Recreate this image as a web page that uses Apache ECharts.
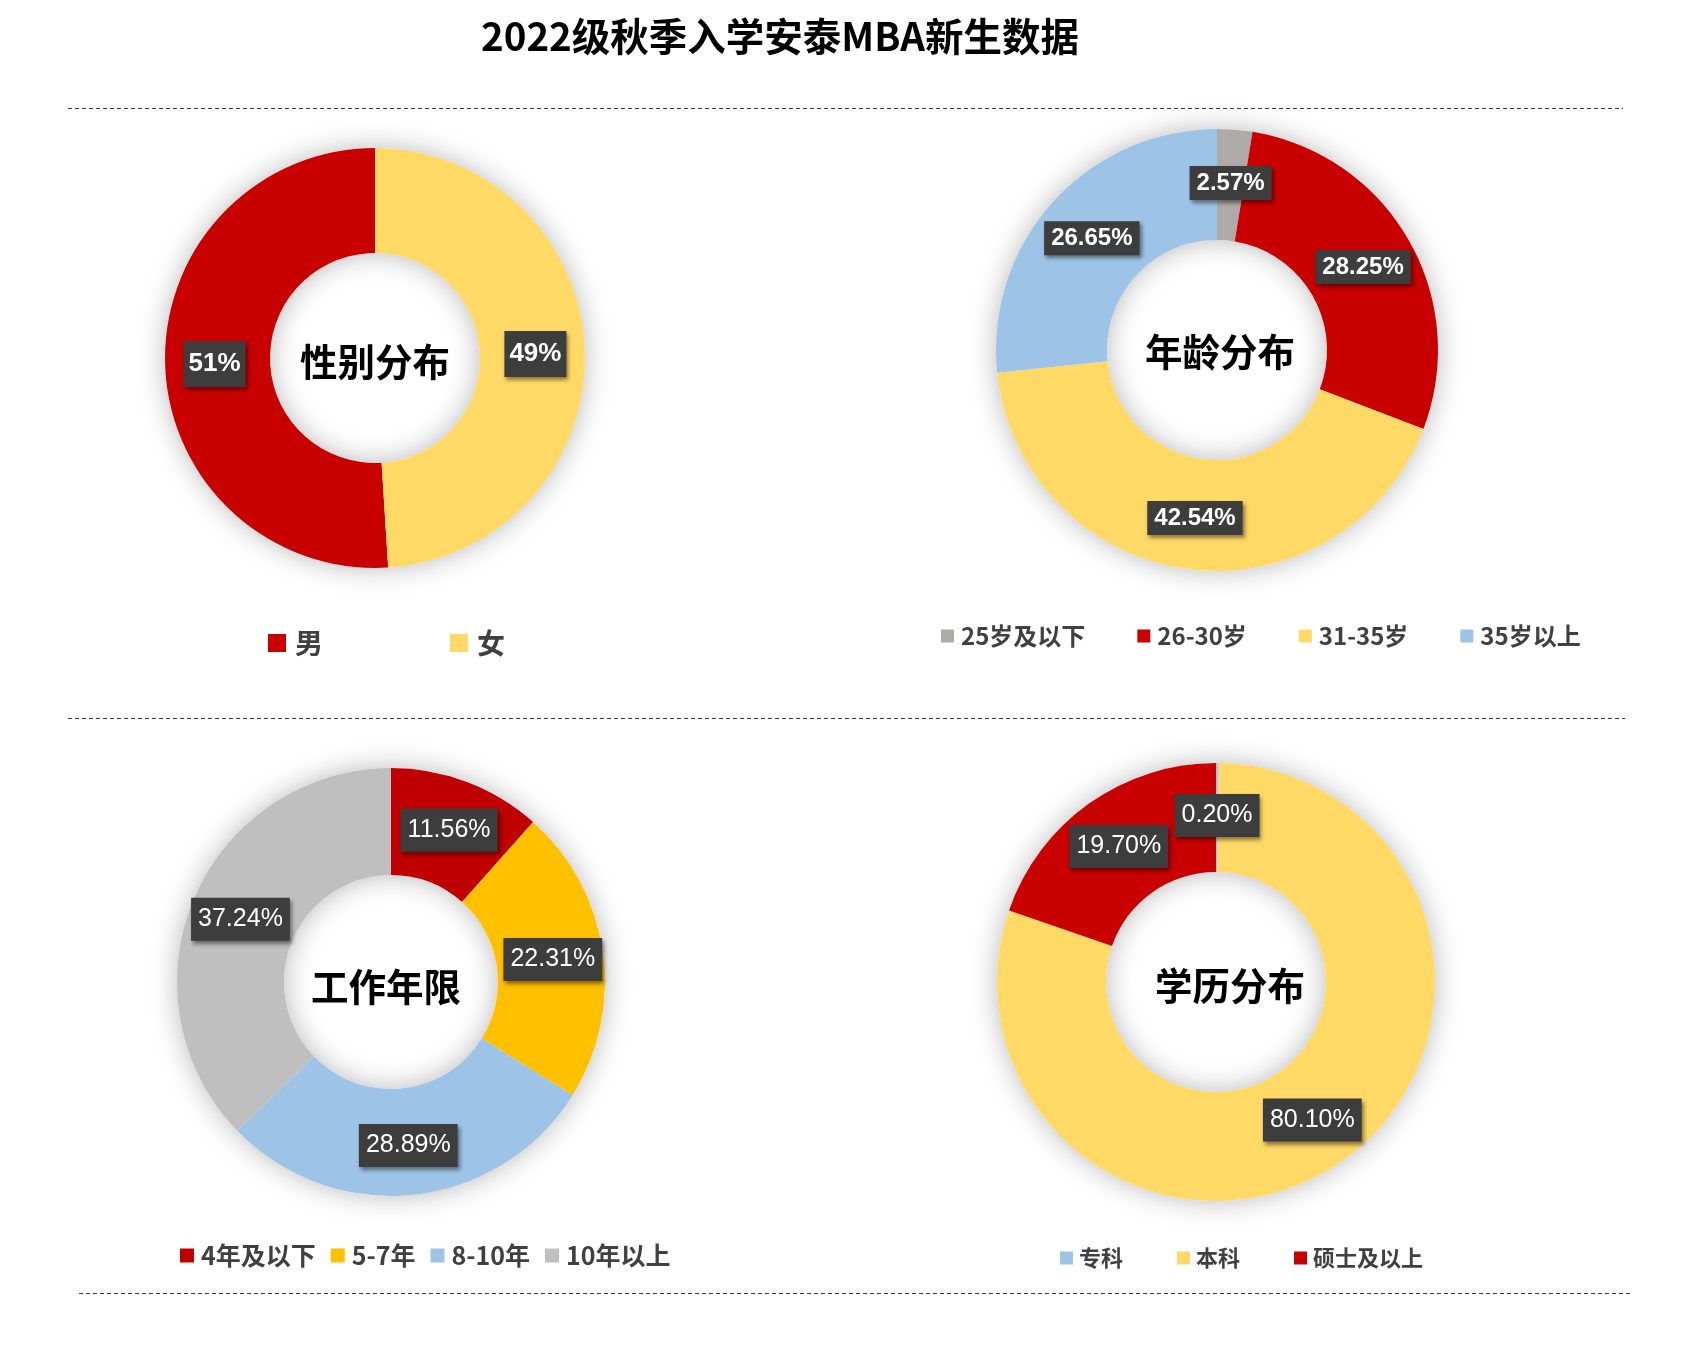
<!DOCTYPE html>
<html>
<head>
<meta charset="utf-8">
<script src="https://cdn.jsdelivr.net/npm/echarts@6/dist/echarts.min.js"></script>
<style>
html,body{margin:0;padding:0;background:#fff;}
#main{width:1682px;height:1350px;}
</style>
</head>
<body>
<div id="main"></div>
<script>
// ---- data ----
var chartTitle = '2022级秋季入学安泰MBA新生数据';
var genderNames = ['男', '女'];
var genderValues = [51, 49];
var ageNames = ['25岁及以下', '26-30岁', '31-35岁', '35岁以上'];
var ageValues = [2.57, 28.25, 42.54, 26.65];
var workNames = ['4年及以下', '5-7年', '8-10年', '10年以上'];
var workValues = [11.56, 22.31, 28.89, 37.24];
var eduNames = ['专科', '本科', '硕士及以上'];
var eduValues = [0.20, 80.10, 19.70];
var centerTexts = ['性别分布', '年龄分布', '工作年限', '学历分布'];

// ---- styles ----
var genderColors = ['#C90000', '#FFD966'];
var ageColors = ['#AEAAAA', '#C90000', '#FFD966', '#9DC3E6'];
var workColors = ['#C00000', '#FFC000', '#9DC3E6', '#BFBFBF'];
var eduColors = ['#9DC3E6', '#FFD966', '#C90000'];

var CJK = '"Noto Sans CJK SC", "Noto Sans", sans-serif';
var LAT = '"Liberation Sans", Arial, sans-serif';

function items(names, vals, colors) {
  return names.map(function (n, i) {
    return { name: n, value: vals[i], itemStyle: { color: colors[i] } };
  });
}

function labelStyle(opts) {
  return {
    show: true,
    position: 'inside',
    color: '#fff',
    fontFamily: LAT,
    fontSize: opts.fontSize,
    fontWeight: opts.fontWeight,
    backgroundColor: '#3d3d3d',
    padding: opts.padding,
    offset: opts.offset || [0, 0],
    shadowColor: 'rgba(0,0,0,0.45)',
    shadowBlur: 4,
    shadowOffsetX: 2,
    shadowOffsetY: 3,
    formatter: opts.formatter
  };
}

function bgRing(center, radius, id) {
  return {
    type: 'pie', name: 'bg' + id, center: center, radius: radius,
    silent: true, z: 1, animation: false,
    label: { show: false }, labelLine: { show: false },
    data: [{ value: 1, name: '__bg' + id, itemStyle: { color: '#ffffff', shadowBlur: 28, shadowColor: 'rgba(0,0,0,0.28)' } }]
  };
}

var fmt2 = function (p) { return p.value.toFixed(2) + '%'; };
var fmt0 = function (p) { return p.value + '%'; };

var donuts = [
  { center: [375, 358], radius: [105, 210] },
  { center: [1217, 350], radius: [110, 221] },
  { center: [391, 982], radius: [107, 214] },
  { center: [1216, 982], radius: [110, 219] }
];

var series = [
  bgRing(donuts[0].center, donuts[0].radius, 0),
  bgRing(donuts[1].center, donuts[1].radius, 1),
  bgRing(donuts[2].center, donuts[2].radius, 2),
  bgRing(donuts[3].center, donuts[3].radius, 3),
  {
    type: 'pie', name: '性别', center: donuts[0].center, radius: donuts[0].radius,
    startAngle: 90, clockwise: false, z: 2, animation: false,
    labelLine: { show: false },
    label: labelStyle({ fontSize: 26, fontWeight: 'bold', padding: [11, 5, 9, 5], formatter: fmt0, offset: [0, 1] }),
    data: items(genderNames, genderValues, genderColors)
  },
  {
    type: 'pie', name: '年龄', center: donuts[1].center, radius: donuts[1].radius,
    startAngle: 90, clockwise: true, z: 2, animation: false,
    labelLine: { show: false },
    label: labelStyle({ fontSize: 24, fontWeight: 'bold', padding: [6, 7, 4, 7], formatter: fmt2, offset: [0, 1] }),
    data: items(ageNames, ageValues, ageColors)
  },
  {
    type: 'pie', name: '工作年限', center: donuts[2].center, radius: donuts[2].radius,
    startAngle: 90, clockwise: true, z: 2, animation: false,
    labelLine: { show: false },
    label: labelStyle({ fontSize: 25, fontWeight: 'normal', padding: [10, 7, 8, 7], formatter: fmt2, offset: [0, 1] }),
    data: items(workNames, workValues, workColors)
  },
  {
    type: 'pie', name: '学历', center: donuts[3].center, radius: donuts[3].radius,
    startAngle: 90, clockwise: true, z: 2, animation: false,
    labelLine: { show: false },
    label: labelStyle({ fontSize: 25, fontWeight: 'normal', padding: [10, 7, 8, 7], formatter: fmt2, offset: [0, 1] }),
    data: items(eduNames, eduValues, eduColors)
  }
];

function legendCfg(names, left, top, size, gap, fontSize, textPad) {
  return {
    data: names, left: left, top: top, orient: 'horizontal',
    icon: 'rect', itemWidth: size, itemHeight: size, itemGap: gap,
    selectedMode: false, padding: 0,
    textStyle: {
      color: '#404040', fontWeight: 'bold', fontFamily: CJK,
      fontSize: fontSize, lineHeight: fontSize + 4, padding: textPad || 0
    }
  };
}

var legends = [
  legendCfg(genderNames, 268, 627, 18, 127, 28, [0, 0, 0, 4]),
  legendCfg(ageNames, 941, 622, 13, 52, 24, [0, 0, 0, 2]),
  legendCfg(workNames, 180, 1241, 14, 15, 25, [0, 0, 0, 2]),
  legendCfg(eduNames, 1060, 1245, 13, 54, 22, [0, 0, 0, 1])
];

var centerPos = [[375, 362], [1220, 352], [386, 987], [1230, 986]];
var graphics = [
  {
    type: 'text', x: 780, y: 36, z: 10,
    style: { text: chartTitle, fontSize: 38.5, fontWeight: 'bold', fontFamily: CJK, fill: '#000', align: 'center', verticalAlign: 'middle' }
  },
  { type: 'line', shape: { x1: 68, y1: 108.5, x2: 1623, y2: 108.5 }, style: { stroke: '#3a3a3a', lineWidth: 1, lineDash: [4, 3] } },
  { type: 'line', shape: { x1: 68, y1: 718.5, x2: 1625, y2: 718.5 }, style: { stroke: '#3a3a3a', lineWidth: 1, lineDash: [4, 3] } },
  { type: 'line', shape: { x1: 79, y1: 1293.5, x2: 1633, y2: 1293.5 }, style: { stroke: '#3a3a3a', lineWidth: 1, lineDash: [4, 3] } }
];
centerTexts.forEach(function (t, i) {
  graphics.push({
    type: 'text', x: centerPos[i][0], y: centerPos[i][1], z: 10,
    style: { text: t, fontSize: 37.5, fontWeight: 'bold', fontFamily: CJK, fill: '#000', align: 'center', verticalAlign: 'middle' }
  });
});

var chart = echarts.init(document.getElementById('main'), null, { renderer: 'canvas' });
chart.setOption({
  backgroundColor: '#ffffff',
  animation: false,
  legend: legends,
  series: series,
  graphic: graphics
});
</script>
</body>
</html>
